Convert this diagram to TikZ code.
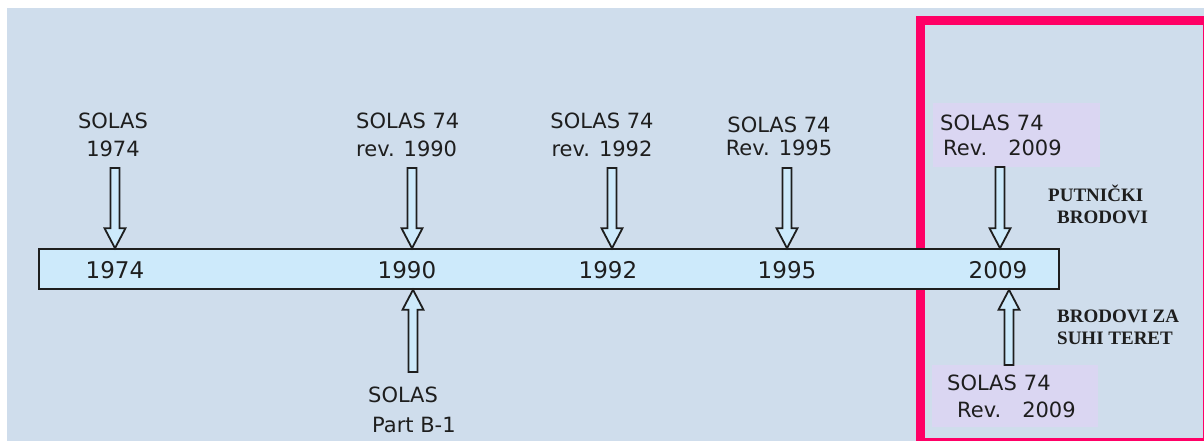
\documentclass[tikz,border=0pt]{standalone}
\usepackage{fontspec}
\setmainfont{DejaVu Sans}
\newfontfamily\captfont{Liberation Serif}
\usetikzlibrary{calc}

\definecolor{bgblue}{HTML}{CFDDEC}
\definecolor{barblue}{HTML}{CDEAFB}
\definecolor{framered}{HTML}{FF0066}
\definecolor{boxlilac}{HTML}{DAD6F2}
\definecolor{inkgray}{HTML}{1E1E1E}

\newcommand{\solasarrow}[2]{%
  \coordinate (neck) at ($(#2)!20pt!(#1)$);
  \draw[blockarrow] ($(#1)!4.5pt!90:(#2)$) -- ($(neck)!4.5pt!-90:(#1)$) -- ($(neck)!10.5pt!-90:(#1)$)
    -- (#2) -- ($(neck)!10.5pt!90:(#1)$) -- ($(neck)!4.5pt!90:(#1)$) -- ($(#1)!4.5pt!-90:(#2)$) -- cycle;}

\begin{document}
\begin{tikzpicture}[x=1pt,y=-1pt,
  lbl/.style={inner sep=0pt, text=inkgray, font=\fontsize{21}{28}\selectfont},
  year/.style={inner sep=0pt, anchor=base, text=inkgray, font=\fontsize{23}{28}\selectfont},
  note/.style={inner sep=0pt, anchor=north west, align=left, text=inkgray, font=\captfont\bfseries\fontsize{19}{22}\selectfont},
  revbox/.style={fill=boxlilac, anchor=north west, align=left, inner ysep=0pt, text=inkgray},
  blockarrow/.style={draw=inkgray, fill=barblue, line width=1.8pt}]
  \useasboundingbox (0,0) rectangle (1204,441);
  \clip (0,0) rectangle (1204,441);
  \fill[bgblue] (7,8) rectangle (1204,441);
  \draw[framered, line width=9pt] (920,21) rectangle (1207,442);

  \node[draw=inkgray, fill=barblue, line width=1.6pt, minimum width=1020pt, minimum height=40pt, inner sep=0pt] (bar) at (549,269) {};
  \node[year] (y1974) at (115,278) {1974};
  \node[year] (y1990) at (407,278) {1990};
  \node[year] (y1992) at (608,278) {1992};
  \node[year] (y1995) at (787,278) {1995};
  \node[year] (y2009) at (998,278) {2009};

  \node[lbl, anchor=north, align=center] (l1974) at (113,113) {SOLAS\\1974};
  \node[lbl, anchor=north west, align=left] (l1990) at (356,113) {SOLAS 74\\rev. 1990};
  \node[lbl, anchor=north, align=center] (l1992) at (602,113) {SOLAS 74\\rev. 1992};
  \node[lbl, anchor=north, align=center, font=\fontsize{21}{23}\selectfont] (l1995) at (779,117) {SOLAS 74\\Rev. 1995};
  \node[lbl, anchor=north west, align=left, font=\fontsize{21}{30}\selectfont] (b1990) at (368,387) {SOLAS\\\hspace*{4pt}Part B-1};

  \node[revbox, text width=153pt, inner xsep=7pt, minimum height=64pt, font=\fontsize{21}{25}\selectfont] (r2009a) at (933,103) {SOLAS 74\\\hspace*{3pt}Rev.~~~2009};
  \node[revbox, text width=136pt, inner xsep=15pt, minimum height=62pt, font=\fontsize{21}{27}\selectfont] (r2009b) at (932,365) {SOLAS 74\\\hspace*{10pt}Rev.~~~2009};

  \node[note] (putnicki) at (1048,185) {PUTNIČKI\\\hspace*{9pt}BRODOVI};
  \node[note] (suhiteret) at (1057,310) {BRODOVI ZA\\SUHI TERET};

  \foreach \px/\yr in {115/1974, 412/1990, 612/1992, 787/1995}{
    \coordinate (a\yr) at (\px,168);
    \coordinate (p\yr) at (a\yr |- bar.north);
    \solasarrow{a\yr}{p\yr}}
  \coordinate (b1990t) at (413,372);
  \coordinate (b1990p) at (b1990t |- bar.south);
  \solasarrow{b1990t}{b1990p}
  \coordinate (a2009) at (1000,167);
  \coordinate (p2009) at (a2009 |- bar.north);
  \solasarrow{a2009}{p2009}
  \coordinate (b2009t) at (1009,365);
  \coordinate (b2009p) at (b2009t |- bar.south);
  \solasarrow{b2009t}{b2009p}
\end{tikzpicture}
\end{document}
